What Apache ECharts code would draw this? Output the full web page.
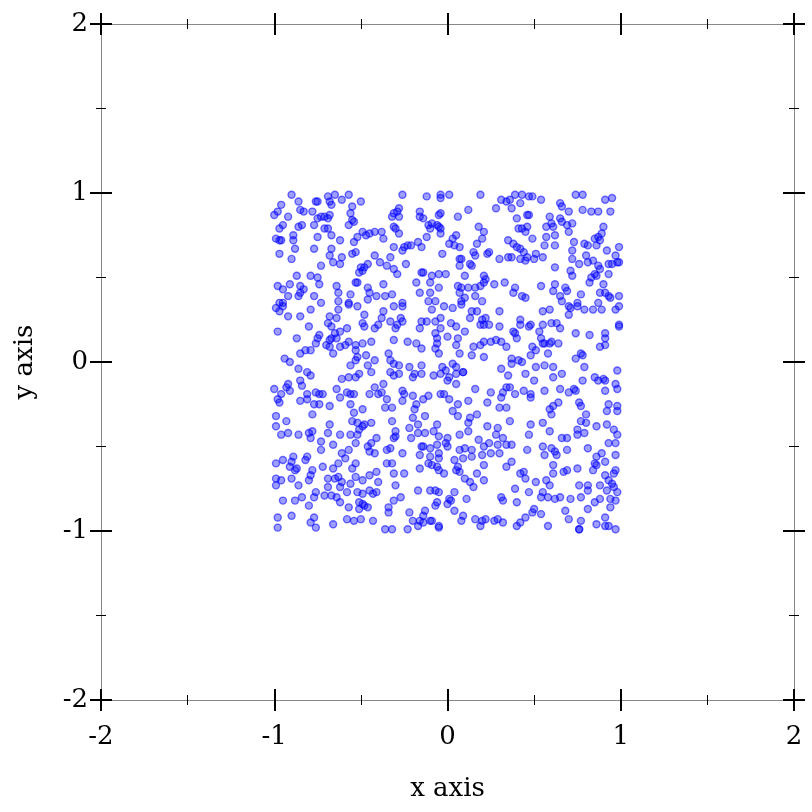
<!DOCTYPE html>
<html><head><meta charset="utf-8">
<script src="https://cdn.jsdelivr.net/npm/echarts@6/dist/echarts.min.js"></script>
<style>html,body{margin:0;padding:0;background:#fff}#c{width:812px;height:812px}</style>
</head><body><div id="c"></div>
<script>
// Axis ticks
const majorTicks = [-2, -1, 0, 1, 2];
const xAxisName = 'x axis';
const yAxisName = 'y axis';

// Points, by region (x, y)
const ptsTopLeft = [[-0.90,0.99],[-0.86,0.95],[-0.96,0.93],[-0.98,0.89],[-1.00,0.87],[-0.92,0.86],[-0.85,0.90],[-0.83,0.89],[-0.78,0.89],[-0.76,0.95],[-0.75,0.95],[-0.69,0.98],[-0.65,0.99],[-0.68,0.95],[-0.67,0.93],[-0.61,0.96],[-0.57,0.99],[-0.50,0.95],[-0.55,0.92],[-0.56,0.88],[-0.73,0.86],[-0.71,0.86],[-0.69,0.85],[-0.68,0.87],[-0.75,0.85],[-0.55,0.84],[-0.54,0.83],[-0.57,0.81],[-0.97,0.79],[-0.95,0.81],[-0.86,0.80],[-0.84,0.81],[-0.77,0.81],[-0.71,0.79],[-0.69,0.79],[-0.67,0.75],[-0.75,0.74],[-0.49,0.77],[-0.47,0.75],[-0.45,0.76],[-0.42,0.77],[-0.38,0.77],[-0.37,0.73],[-0.52,0.74],[-0.54,0.71],[-0.62,0.72],[-0.67,0.67],[-0.99,0.73],[-0.97,0.72],[-0.96,0.72],[-0.89,0.75],[-0.89,0.72],[-0.88,0.67],[-0.77,0.67],[-0.97,0.64],[-0.90,0.61],[-0.68,0.63],[-0.66,0.59],[-0.61,0.62],[-0.62,0.58],[-0.55,0.64],[-0.53,0.65],[-0.42,0.63],[-0.73,0.57],[-0.39,0.59],[-0.35,0.57],[-0.50,0.56],[-0.48,0.56],[-0.46,0.58],[-0.51,0.53],[-0.49,0.54],[-0.87,0.51],[-0.79,0.51],[-0.75,0.50],[-0.74,0.46],[-0.98,0.45],[-0.95,0.43],[-0.91,0.46],[-0.85,0.45],[-0.83,0.43],[-0.85,0.41],[-0.86,0.39],[-0.92,0.39],[-0.77,0.39],[-0.64,0.45],[-0.63,0.41],[-0.53,0.47],[-0.52,0.47],[-0.56,0.40],[-0.46,0.44],[-0.45,0.41],[-0.41,0.39],[-0.37,0.46],[-0.36,0.39],[-0.73,0.35],[-0.63,0.36],[-0.57,0.35],[-0.97,0.35],[-0.95,0.35],[-0.46,0.37]];
const ptsTopMid = [[-0.26,0.99],[-0.12,0.98],[-0.04,0.99],[-0.04,0.97],[0.01,0.99],[0.19,0.99],[0.31,0.96],[0.34,0.95],[0.28,0.91],[0.12,0.90],[0.06,0.86],[-0.28,0.91],[-0.29,0.89],[-0.31,0.88],[-0.32,0.86],[-0.28,0.86],[-0.16,0.89],[-0.16,0.86],[-0.14,0.85],[-0.05,0.87],[-0.04,0.88],[-0.09,0.82],[-0.11,0.81],[-0.10,0.79],[-0.06,0.81],[-0.05,0.80],[-0.04,0.79],[-0.04,0.76],[-0.12,0.74],[-0.31,0.80],[-0.30,0.79],[-0.28,0.76],[0.18,0.80],[0.21,0.77],[0.20,0.73],[0.17,0.70],[0.03,0.73],[0.05,0.75],[0.01,0.70],[0.04,0.69],[0.07,0.68],[-0.17,0.71],[-0.15,0.68],[-0.25,0.68],[-0.26,0.66],[-0.23,0.69],[-0.21,0.69],[-0.31,0.68],[-0.03,0.64],[0.07,0.61],[0.08,0.61],[0.07,0.57],[0.13,0.58],[0.14,0.57],[0.16,0.63],[0.15,0.65],[0.23,0.64],[0.24,0.65],[0.30,0.61],[0.35,0.62],[-0.33,0.62],[-0.24,0.58],[-0.31,0.55],[-0.29,0.52],[-0.14,0.53],[-0.15,0.53],[-0.09,0.51],[-0.05,0.52],[-0.01,0.52],[0.21,0.51],[0.22,0.49],[0.10,0.51],[-0.18,0.47],[-0.10,0.47],[-0.05,0.44],[0.06,0.45],[0.07,0.41],[0.08,0.44],[0.12,0.44],[0.16,0.44],[0.19,0.45],[0.21,0.47],[0.27,0.46],[0.33,0.47],[-0.32,0.40],[-0.16,0.41],[-0.10,0.41],[0.10,0.38],[0.16,0.39],[-0.26,0.35],[-0.11,0.36],[-0.07,0.36],[0.08,0.36],[0.20,0.36]];
const ptsTopRight = [[0.39,0.99],[0.43,0.99],[0.47,0.98],[0.49,0.98],[0.54,0.96],[0.36,0.96],[0.42,0.94],[0.37,0.91],[0.65,0.94],[0.66,0.92],[0.70,0.89],[0.74,0.99],[0.78,0.99],[0.91,0.96],[0.95,0.97],[0.78,0.90],[0.83,0.89],[0.87,0.89],[0.94,0.89],[0.47,0.87],[0.46,0.87],[0.40,0.85],[0.59,0.86],[0.65,0.85],[0.66,0.83],[0.60,0.82],[0.57,0.80],[0.61,0.80],[0.69,0.81],[0.72,0.82],[0.70,0.77],[0.41,0.79],[0.43,0.79],[0.45,0.77],[0.46,0.80],[0.49,0.73],[0.57,0.74],[0.62,0.75],[0.35,0.72],[0.38,0.70],[0.40,0.68],[0.42,0.67],[0.44,0.65],[0.37,0.62],[0.42,0.61],[0.45,0.60],[0.46,0.62],[0.51,0.64],[0.50,0.61],[0.55,0.62],[0.56,0.69],[0.62,0.69],[0.62,0.56],[0.73,0.71],[0.72,0.66],[0.72,0.61],[0.76,0.58],[0.79,0.70],[0.81,0.69],[0.80,0.63],[0.81,0.59],[0.84,0.60],[0.85,0.73],[0.87,0.74],[0.89,0.76],[0.90,0.80],[0.88,0.72],[0.86,0.69],[0.92,0.66],[0.99,0.68],[0.97,0.63],[0.93,0.58],[0.95,0.58],[0.98,0.59],[0.99,0.59],[0.87,0.57],[0.88,0.55],[0.85,0.52],[0.86,0.51],[0.83,0.50],[0.82,0.47],[0.90,0.46],[0.93,0.52],[0.71,0.54],[0.72,0.51],[0.62,0.46],[0.61,0.42],[0.54,0.45],[0.68,0.44],[0.69,0.42],[0.39,0.44],[0.38,0.41],[0.43,0.39],[0.45,0.38],[0.65,0.39],[0.66,0.36],[0.77,0.40],[0.88,0.41],[0.91,0.41],[0.93,0.39],[0.94,0.38],[0.99,0.39],[0.75,0.35],[0.87,0.35]];
const ptsMidLeft = [[-0.99,0.32],[-0.97,0.30],[-0.95,0.33],[-0.92,0.27],[-0.85,0.27],[-0.79,0.31],[-0.68,0.27],[-0.63,0.31],[-0.64,0.26],[-0.57,0.34],[-0.52,0.33],[-0.48,0.28],[-0.37,0.30],[-0.38,0.26],[-0.49,0.23],[-0.48,0.21],[-0.42,0.20],[-0.40,0.22],[-0.98,0.18],[-0.87,0.14],[-0.80,0.21],[-0.69,0.23],[-0.67,0.21],[-0.62,0.18],[-0.58,0.20],[-0.65,0.17],[-0.64,0.14],[-0.67,0.14],[-0.68,0.13],[-0.70,0.10],[-0.68,0.09],[-0.66,0.05],[-0.74,0.16],[-0.75,0.14],[-0.76,0.11],[-0.79,0.07],[-0.82,0.07],[-0.85,0.05],[-0.62,0.09],[-0.59,0.10],[-0.57,0.12],[-0.53,0.10],[-0.49,0.11],[-0.44,0.12],[-0.53,0.07],[-0.52,0.03],[-0.47,0.04],[-0.42,0.01],[-0.46,-0.02],[-0.53,0.01],[-0.56,-0.02],[-0.51,-0.07],[-0.53,-0.09],[-0.57,-0.09],[-0.61,-0.10],[-0.44,-0.06],[-0.94,0.02],[-0.91,0.00],[-0.86,-0.04],[-0.81,-0.06],[-0.79,-0.08],[-0.85,-0.11],[-0.84,-0.14],[-0.92,-0.13],[-0.93,-0.15],[-1.00,-0.16],[-0.96,-0.19],[-0.98,-0.22],[-0.97,-0.24],[-0.91,-0.17],[-0.85,-0.23],[-0.81,-0.19],[-0.76,-0.18],[-0.74,-0.19],[-0.72,-0.19],[-0.64,-0.16],[-0.62,-0.21],[-0.58,-0.18],[-0.56,-0.19],[-0.54,-0.19],[-0.45,-0.19],[-0.42,-0.15],[-0.40,-0.19],[-0.38,-0.18],[-0.37,-0.13],[-0.35,-0.22],[-0.81,-0.22],[-0.77,-0.25],[-0.74,-0.25],[-0.68,-0.26],[-0.78,-0.31],[-0.56,-0.25],[-0.54,-0.30],[-0.49,-0.28],[-0.36,-0.27],[-0.99,-0.32]];
const ptsCenter = [[-0.31,0.33],[-0.26,0.33],[-0.09,0.31],[-0.02,0.33],[0.03,0.32],[0.08,0.34],[0.14,0.30],[0.17,0.30],[0.30,0.30],[-0.33,0.24],[-0.27,0.26],[-0.26,0.24],[-0.29,0.22],[-0.30,0.20],[-0.15,0.24],[-0.16,0.20],[-0.12,0.24],[-0.07,0.24],[-0.04,0.26],[-0.04,0.20],[0.02,0.23],[0.05,0.21],[0.13,0.26],[0.20,0.25],[0.22,0.26],[0.19,0.22],[0.21,0.22],[0.24,0.22],[0.30,0.21],[-0.31,0.13],[-0.23,0.12],[-0.18,0.11],[-0.15,0.08],[-0.07,0.17],[-0.06,0.14],[-0.06,0.11],[0.00,0.15],[0.06,0.14],[0.05,0.10],[0.10,0.18],[-0.07,0.08],[-0.05,0.05],[0.07,0.05],[0.15,0.09],[0.19,0.10],[0.21,0.12],[0.25,0.12],[0.28,0.13],[0.31,0.12],[0.34,0.09],[0.14,0.04],[0.21,0.03],[0.31,-0.04],[-0.34,0.05],[-0.33,0.01],[-0.31,-0.01],[-0.28,-0.02],[-0.33,-0.06],[-0.31,-0.08],[-0.28,-0.07],[-0.22,-0.03],[-0.20,-0.09],[-0.19,-0.07],[-0.15,-0.02],[-0.15,-0.07],[-0.08,-0.08],[-0.04,-0.07],[-0.03,-0.03],[-0.01,-0.05],[0.01,-0.09],[0.00,-0.11],[0.03,-0.01],[0.05,-0.03],[0.05,-0.07],[0.05,-0.13],[0.09,-0.06],[0.09,-0.06],[0.16,-0.16],[0.25,-0.18],[0.34,-0.15],[0.32,-0.18],[0.31,-0.21],[0.23,-0.24],[0.30,-0.27],[0.34,-0.27],[-0.26,-0.17],[-0.25,-0.19],[-0.26,-0.23],[-0.20,-0.20],[-0.18,-0.25],[-0.14,-0.22],[-0.11,-0.20],[-0.04,-0.19],[-0.02,-0.19],[0.01,-0.22],[0.06,-0.25],[0.03,-0.29],[0.12,-0.23],[-0.19,-0.28],[-0.13,-0.32],[0.06,-0.32],[0.13,-0.33],[0.17,-0.31],[-0.32,-0.27],[-0.20,-0.33]];
const ptsMidRight = [[0.55,0.30],[0.59,0.31],[0.70,0.33],[0.71,0.32],[0.75,0.33],[0.79,0.31],[0.84,0.31],[0.89,0.31],[0.97,0.31],[0.99,0.33],[0.70,0.28],[0.42,0.25],[0.42,0.22],[0.38,0.18],[0.39,0.17],[0.40,0.14],[0.47,0.21],[0.48,0.22],[0.55,0.22],[0.60,0.23],[0.63,0.23],[0.65,0.20],[0.53,0.18],[0.54,0.14],[0.56,0.11],[0.55,0.11],[0.59,0.11],[0.60,0.12],[0.64,0.11],[0.58,0.05],[0.74,0.17],[0.82,0.16],[0.91,0.17],[0.91,0.14],[0.88,0.09],[0.91,0.10],[0.99,0.21],[0.99,0.22],[0.49,0.09],[0.48,0.04],[0.51,0.07],[0.37,0.02],[0.37,-0.01],[0.43,0.00],[0.41,0.01],[0.45,-0.07],[0.51,-0.03],[0.56,-0.02],[0.61,-0.03],[0.61,-0.09],[0.66,-0.07],[0.74,0.02],[0.77,0.05],[0.78,0.04],[0.79,-0.03],[0.85,-0.09],[0.87,-0.11],[0.90,-0.10],[0.91,-0.11],[0.91,-0.17],[0.98,-0.05],[0.97,-0.13],[0.98,-0.16],[0.35,-0.08],[0.36,-0.15],[0.39,-0.19],[0.44,-0.17],[0.48,-0.19],[0.48,-0.21],[0.50,-0.11],[0.56,-0.17],[0.65,-0.16],[0.70,-0.18],[0.73,-0.16],[0.74,-0.17],[0.78,-0.11],[0.64,-0.24],[0.61,-0.26],[0.59,-0.28],[0.60,-0.31],[0.76,-0.24],[0.77,-0.26],[0.80,-0.31],[0.93,-0.25],[0.92,-0.29],[0.98,-0.26],[0.98,-0.29]];
const ptsBottomLeft = [[-0.99,-0.38],[-0.93,-0.35],[-0.96,-0.43],[-0.92,-0.42],[-0.86,-0.43],[-0.80,-0.42],[-0.78,-0.41],[-0.79,-0.45],[-0.68,-0.37],[-0.69,-0.42],[-0.62,-0.43],[-0.56,-0.43],[-0.55,-0.35],[-0.52,-0.36],[-0.48,-0.37],[-0.44,-0.36],[-0.52,-0.43],[-0.51,-0.40],[-0.49,-0.38],[-0.41,-0.45],[-0.73,-0.47],[-0.73,-0.52],[-0.66,-0.49],[-0.53,-0.48],[-0.46,-0.50],[-0.45,-0.53],[-0.44,-0.48],[-0.42,-0.54],[-0.35,-0.52],[-0.61,-0.54],[-0.57,-0.52],[-0.59,-0.57],[-0.63,-0.60],[-0.55,-0.63],[-0.53,-0.60],[-0.99,-0.60],[-0.95,-0.58],[-0.89,-0.56],[-0.90,-0.59],[-0.91,-0.62],[-0.87,-0.63],[-0.88,-0.64],[-0.82,-0.58],[-0.81,-0.56],[-0.78,-0.64],[-0.79,-0.67],[-0.80,-0.70],[-0.72,-0.62],[-0.66,-0.63],[-0.69,-0.69],[-0.65,-0.69],[-0.63,-0.68],[-0.62,-0.74],[-0.61,-0.71],[-0.56,-0.72],[-0.53,-0.68],[-0.49,-0.70],[-0.45,-0.67],[-0.41,-0.65],[-0.40,-0.71],[-0.45,-0.76],[-0.43,-0.78],[-0.41,-0.77],[-0.35,-0.60],[-0.99,-0.69],[-0.96,-0.70],[-0.99,-0.73],[-0.90,-0.69],[-0.86,-0.73],[-0.76,-0.77],[-0.77,-0.80],[-0.69,-0.74],[-0.67,-0.79],[-0.71,-0.79],[-0.64,-0.80],[-0.62,-0.83],[-0.58,-0.77],[-0.57,-0.86],[-0.52,-0.77],[-0.49,-0.78],[-0.51,-0.83],[-0.49,-0.84],[-0.48,-0.85],[-0.51,-0.87],[-0.46,-0.86],[-0.95,-0.82],[-0.88,-0.82],[-0.84,-0.80],[-0.80,-0.85],[-0.77,-0.92],[-0.79,-0.95],[-0.76,-0.98],[-0.90,-0.91],[-0.98,-0.92],[-0.98,-0.98],[-0.66,-0.96],[-0.58,-0.93],[-0.54,-0.94],[-0.50,-0.93],[-0.43,-0.94],[-0.36,-0.99]];
const ptsBottomMid = [[-0.32,-0.35],[-0.22,-0.39],[-0.17,-0.37],[-0.17,-0.42],[-0.06,-0.37],[-0.08,-0.41],[-0.13,-0.42],[-0.30,-0.41],[-0.31,-0.45],[-0.30,-0.44],[-0.33,-0.51],[-0.21,-0.45],[-0.15,-0.50],[-0.14,-0.50],[-0.10,-0.51],[-0.06,-0.49],[-0.01,-0.48],[0.00,-0.50],[0.00,-0.45],[-0.05,-0.44],[0.12,-0.36],[0.12,-0.41],[0.07,-0.43],[0.23,-0.38],[0.29,-0.39],[0.28,-0.43],[0.32,-0.45],[0.18,-0.46],[0.21,-0.50],[0.24,-0.48],[0.29,-0.49],[0.34,-0.49],[0.10,-0.51],[0.14,-0.52],[0.07,-0.52],[-0.16,-0.55],[-0.26,-0.54],[-0.10,-0.56],[-0.05,-0.54],[-0.05,-0.57],[-0.11,-0.60],[-0.09,-0.61],[-0.06,-0.62],[-0.05,-0.64],[-0.02,-0.66],[0.04,-0.58],[0.09,-0.57],[0.14,-0.56],[0.20,-0.55],[0.25,-0.54],[0.30,-0.54],[0.34,-0.62],[0.21,-0.61],[0.06,-0.62],[0.05,-0.64],[0.07,-0.65],[0.17,-0.66],[0.21,-0.70],[-0.32,-0.60],[-0.31,-0.66],[-0.25,-0.66],[-0.16,-0.63],[0.10,-0.69],[0.13,-0.71],[0.15,-0.74],[-0.30,-0.73],[-0.17,-0.76],[-0.10,-0.76],[-0.07,-0.76],[-0.05,-0.77],[0.04,-0.77],[0.01,-0.81],[0.02,-0.82],[0.00,-0.84],[-0.06,-0.83],[-0.07,-0.85],[-0.27,-0.80],[-0.31,-0.82],[0.11,-0.81],[0.31,-0.80],[0.32,-0.82],[0.04,-0.88],[0.09,-0.91],[0.08,-0.94],[0.16,-0.93],[0.20,-0.94],[0.22,-0.93],[0.27,-0.94],[0.29,-0.93],[0.32,-0.95],[-0.34,-0.86],[-0.34,-0.89],[-0.22,-0.89],[-0.20,-0.94],[-0.16,-0.94],[-0.13,-0.88],[-0.14,-0.91],[-0.14,-0.95],[-0.10,-0.94],[-0.09,-0.94],[-0.05,-0.97],[-0.05,-0.98],[-0.23,-0.99],[-0.32,-0.99],[-0.17,-0.97],[0.19,-0.97]];
const ptsBottomRight = [[0.36,-0.35],[0.48,-0.37],[0.55,-0.36],[0.59,-0.41],[0.47,-0.43],[0.37,-0.49],[0.46,-0.52],[0.55,-0.50],[0.56,-0.55],[0.60,-0.51],[0.62,-0.53],[0.63,-0.55],[0.69,-0.52],[0.66,-0.45],[0.69,-0.45],[0.75,-0.43],[0.75,-0.40],[0.77,-0.35],[0.80,-0.36],[0.79,-0.42],[0.86,-0.38],[0.92,-0.37],[0.96,-0.40],[0.98,-0.43],[0.93,-0.48],[0.97,-0.48],[0.81,-0.51],[0.86,-0.56],[0.89,-0.54],[0.91,-0.59],[0.85,-0.60],[0.86,-0.61],[0.97,-0.55],[0.37,-0.59],[0.42,-0.66],[0.44,-0.65],[0.45,-0.69],[0.51,-0.71],[0.57,-0.70],[0.59,-0.73],[0.61,-0.61],[0.61,-0.66],[0.67,-0.65],[0.69,-0.64],[0.75,-0.63],[0.84,-0.64],[0.91,-0.67],[0.96,-0.66],[0.97,-0.64],[0.93,-0.70],[0.95,-0.72],[0.96,-0.74],[0.98,-0.77],[0.39,-0.75],[0.47,-0.77],[0.55,-0.77],[0.54,-0.80],[0.58,-0.80],[0.62,-0.81],[0.65,-0.80],[0.71,-0.81],[0.76,-0.73],[0.77,-0.80],[0.81,-0.73],[0.81,-0.76],[0.88,-0.73],[0.92,-0.76],[0.85,-0.83],[0.88,-0.81],[0.94,-0.81],[0.97,-0.82],[0.94,-0.86],[0.40,-0.83],[0.50,-0.87],[0.49,-0.89],[0.54,-0.90],[0.68,-0.88],[0.70,-0.93],[0.77,-0.94],[0.81,-0.87],[0.91,-0.92],[0.86,-0.96],[0.91,-0.97],[0.93,-0.97],[0.97,-0.99],[0.45,-0.92],[0.42,-0.95],[0.40,-0.97],[0.58,-0.97],[0.76,-0.99],[0.76,-0.99]];

const allPoints = [].concat(ptsTopLeft, ptsTopMid, ptsTopRight, ptsMidLeft, ptsCenter, ptsMidRight, ptsBottomLeft, ptsBottomMid, ptsBottomRight);

const FONT = 'DejaVu Serif';
const FS = 26;

function mkAxis(kind, pos, inside, showLabel, extra) {
  const a = {
    type: 'value', position: pos, min: -2, max: 2, interval: 1,
    axisLine: { show: true, onZero: false, lineStyle: { color: '#888', width: 1 } },
    axisTick: { show: true, inside: inside, length: 11, lineStyle: { color: '#000', width: 2 } },
    minorTick: { show: true, splitNumber: 2, length: 5, lineStyle: { color: '#000', width: 1 } },
    splitLine: { show: false }, minorSplitLine: { show: false },
    axisLabel: { show: showLabel, fontFamily: FONT, fontSize: FS, color: '#000',
                 margin: kind === 'x' ? 24 : 13 }
  };
  return Object.assign(a, extra || {});
}

const nameStyle = { fontFamily: FONT, fontSize: FS, color: '#000' };

const chart = echarts.init(document.getElementById('c'), null, { renderer: 'canvas' });
chart.setOption({
  animation: false,
  backgroundColor: '#fff',
  grid: { left: 101, right: 18, top: 24, bottom: 112, containLabel: false },
  xAxis: [
    mkAxis('x', 'bottom', false, true, { name: xAxisName, nameLocation: 'middle', nameGap: 76, nameTextStyle: nameStyle }),
    mkAxis('x', 'bottom', true, false),
    mkAxis('x', 'top', false, false),
    mkAxis('x', 'top', true, false)
  ],
  yAxis: [
    mkAxis('y', 'left', false, true, { name: yAxisName, nameLocation: 'middle', nameGap: 63, nameRotate: 90, nameTextStyle: nameStyle }),
    mkAxis('y', 'left', true, false),
    mkAxis('y', 'right', false, false),
    mkAxis('y', 'right', true, false)
  ],
  series: [{
    type: 'scatter', xAxisIndex: 0, yAxisIndex: 0,
    data: allPoints, symbol: 'circle', symbolSize: 7,
    itemStyle: { color: 'rgba(0,0,255,0.38)', borderColor: 'rgba(0,0,255,0.55)', borderWidth: 1.4, opacity: 1 }
  }]
});
</script></body></html>
